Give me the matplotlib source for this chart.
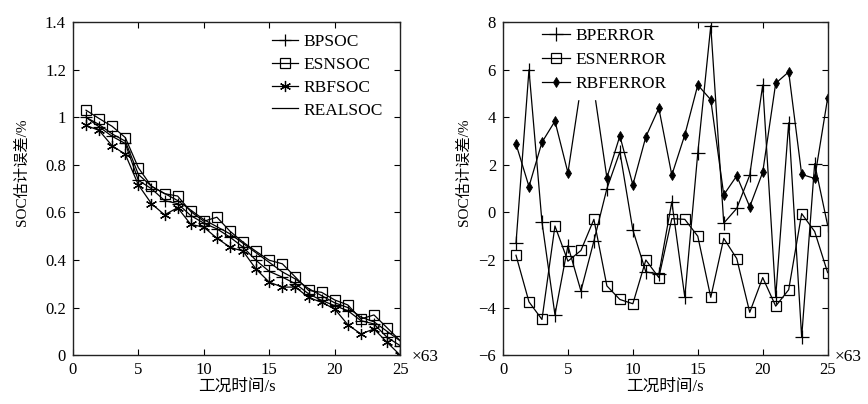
import numpy as np
import matplotlib
matplotlib.use("Agg")
import matplotlib.pyplot as plt

plt.rcParams['font.family'] = ['Liberation Serif', 'Noto Sans CJK SC']
plt.rcParams['axes.unicode_minus'] = True

# left panel: SOC estimates
t = np.arange(1, 26)
bp_soc = [1.00, 0.96, 0.92, 0.89, 0.735, 0.70, 0.65, 0.637, 0.587, 0.555, 0.531, 0.496, 0.454,
          0.398, 0.352, 0.328, 0.30, 0.258, 0.23, 0.208, 0.187, 0.145, 0.131, 0.075, 0.04]
esn_soc = [1.03, 0.995, 0.962, 0.915, 0.788, 0.71, 0.679, 0.669, 0.604, 0.563, 0.58, 0.521, 0.475,
           0.436, 0.399, 0.384, 0.328, 0.272, 0.264, 0.232, 0.211, 0.152, 0.169, 0.115, 0.061]
rbf_soc = [0.966, 0.945, 0.88, 0.845, 0.716, 0.637, 0.59, 0.62, 0.55, 0.538, 0.492, 0.454, 0.437,
           0.361, 0.307, 0.286, 0.286, 0.243, 0.222, 0.194, 0.128, 0.089, 0.11, 0.054, 0.0]
real_soc = [1.0, 0.97, 0.93, 0.90, 0.76, 0.71, 0.68, 0.65, 0.61, 0.57, 0.54, 0.51, 0.47,
            0.43, 0.39, 0.35, 0.32, 0.28, 0.25, 0.22, 0.20, 0.16, 0.14, 0.10, 0.06]

# right panel: errors
bp_err = [-1.3, 6.0, -0.4, -4.3, -1.4, -3.3, -1.2, 1.0, 2.55, -0.74, -2.5, -2.6, 0.45,
          -3.56, 2.5, 7.85, -0.45, 0.17, 1.57, 5.36, -3.55, 3.77, -5.25, 2.05, -0.54]
esn_err = [-1.8, -3.76, -4.5, -0.57, -2.05, -1.6, -0.29, -3.09, -3.66, -3.84, -2.0, -2.74, -0.26,
           -0.29, -1.0, -3.57, -1.09, -1.94, -4.2, -2.74, -3.94, -3.25, -0.05, -0.8, -2.53]
rbf_err = [2.88, 1.09, 2.95, 3.84, 1.67, 5.3, 5.2, 1.46, 3.22, 1.16, 3.18, 4.39, 1.57,
           3.26, 5.36, 4.74, 0.74, 1.54, 0.24, 1.69, 5.43, 5.91, 1.6, 1.43, 4.81]

fig = plt.figure(figsize=(8.68, 4.04), dpi=100)
ax1 = fig.add_axes([0.084, 0.121, 0.377, 0.824])
ax2 = fig.add_axes([0.5795, 0.121, 0.374, 0.824])

lw = 0.9
ast = (6, 2, 0)
ax1.plot(t, bp_soc, color='black', lw=lw, marker='+', ms=9, mew=0.9, label='BPSOC')
ax1.plot(t, esn_soc, color='black', lw=lw, marker='s', ms=6.5, mew=0.9, fillstyle='none', label='ESNSOC')
ax1.plot(t, rbf_soc, color='black', lw=lw, marker=ast, ms=8, mew=0.9, label='RBFSOC')
ax1.plot(t, real_soc, color='black', lw=lw, label='REALSOC')

ax2.plot(t, bp_err, color='black', lw=lw, marker='+', ms=10, mew=0.9, label='BPERROR')
ax2.plot(t, esn_err, color='black', lw=lw, marker='s', ms=7, mew=0.9, fillstyle='none', label='ESNERROR')
ax2.plot(t, rbf_err, color='black', lw=lw, marker='d', ms=5, mew=0.6, label='RBFERROR')

ax1.set_xlim(0, 25)
ax1.set_ylim(0, 1.4)
ax1.set_yticks(np.arange(0, 1.41, 0.2))
ax1.set_yticklabels(['0', '0.2', '0.4', '0.6', '0.8', '1', '1.2', '1.4'])
ax2.set_xlim(0, 25)
ax2.set_ylim(-6, 8)
ax2.set_yticks(np.arange(-6, 9, 2))

for ax, gap in ((ax1, 0.035), (ax2, 0.02)):
    ax.set_xticks([0, 5, 10, 15, 20, 25])
    ax.tick_params(direction='in', top=True, right=True, length=4, width=0.8, labelsize=12, pad=5)
    for s in ax.spines.values():
        s.set_linewidth(1.0)
        s.set_color('#222222')
    ax.set_xlabel('工况时间/s', fontsize=12)
    ax.set_ylabel('SOC估计误差/%', fontsize=11)
    ax.xaxis.set_label_coords(0.5, -0.072)
    ax.text(1 + gap, -0.005, '×63', transform=ax.transAxes, fontsize=12.5, ha='left', va='center')
ax1.yaxis.set_label_coords(-0.135, 0.55)
ax2.yaxis.set_label_coords(-0.10, 0.55)

ax1.legend(loc='upper left', bbox_to_anchor=(0.587, 0.985), borderaxespad=0, fontsize=12.5,
           numpoints=1, handlelength=1.5, handletextpad=0.3, labelspacing=0.38, frameon=False)
leg2 = ax2.legend(loc='upper left', bbox_to_anchor=(0.10, 1.005), borderaxespad=0, fontsize=12.5,
                  numpoints=1, handlelength=1.6, handletextpad=0.3, labelspacing=0.45,
                  frameon=True, facecolor='white', edgecolor='white', framealpha=1.0, fancybox=False)
leg2.set_zorder(2.4)

fig.savefig('out.png', dpi=100)
